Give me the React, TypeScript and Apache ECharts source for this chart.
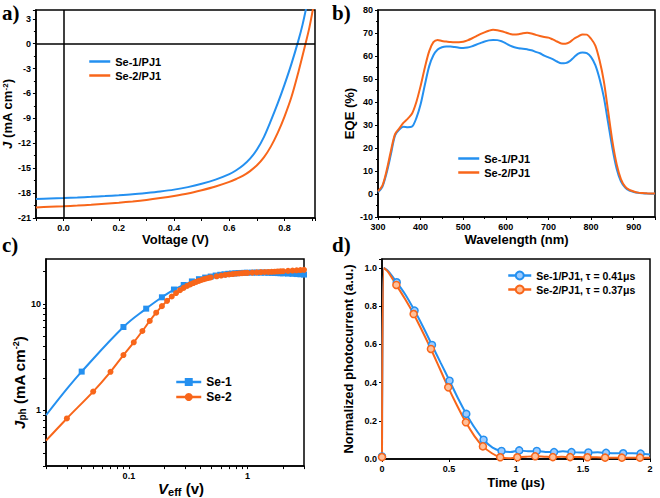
import React, { useEffect, useRef } from 'react';
import * as echarts from 'echarts';

// ---------- data ----------
// a) J-V curves
const jvV1 = [-0.1,-0.05,0,0.05,0.1,0.15,0.2,0.25,0.3,0.35,0.4,0.45,0.5,0.55,0.6,0.625,0.65,0.675,0.7,0.725,0.75,0.775,0.8,0.825,0.85,0.865,0.88];
const jvJ1 = [-18.72,-18.66,-18.6,-18.53,-18.45,-18.36,-18.26,-18.14,-17.98,-17.8,-17.58,-17.28,-16.88,-16.38,-15.72,-15.25,-14.65,-13.85,-12.75,-11.25,-9.3,-7.2,-4.9,-2.4,0.4,2.3,4.6];
const jvV2 = [-0.1,-0.05,0,0.05,0.1,0.15,0.2,0.25,0.3,0.35,0.4,0.45,0.5,0.55,0.6,0.625,0.65,0.675,0.7,0.725,0.75,0.775,0.8,0.825,0.85,0.875,0.89,0.905];
const jvJ2 = [-19.72,-19.65,-19.58,-19.5,-19.4,-19.28,-19.15,-19.0,-18.82,-18.6,-18.35,-18.05,-17.65,-17.2,-16.65,-16.3,-15.9,-15.35,-14.65,-13.7,-12.4,-10.75,-8.75,-6.4,-3.4,-0.1,2.0,4.6];

// b) EQE
const eqeWl = [300,310,320,330,340,350,360,370,380,390,400,410,420,430,440,450,460,470,480,490,500,510,520,530,540,550,560,570,580,590,600,610,620,630,640,650,660,670,680,690,700,710,720,730,740,750,760,770,780,790,800,810,820,830,840,850,860,870,880,890,900,910,920,930,940,950];
const eqeSe1 = [0.8,3,9,17,25.5,28,29.2,29,29.3,33,39,47.5,55.5,60.3,62.8,63.8,64.1,64.1,63.9,63.6,63.5,63.7,64.2,64.9,65.6,66.3,66.8,67,66.9,66.4,65.5,64.5,63.8,63.4,63.2,62.9,62.5,61.8,61.2,60.2,59.4,58.6,57.6,56.8,56.9,57.8,59.5,61,61.5,61.2,59.5,56,50,42,31,20,11,5.5,2.8,1.5,0.9,0.5,0.3,0.2,0.1,0.1];
const eqeSe2 = [1.2,3.5,10,18.5,26,28.5,31,32.8,35,40,47,55,62,66,67,66.5,66.3,66.1,66,66,66.2,66.8,67.6,68.5,69.5,70.3,71,71.4,71.2,70.8,70.2,69.6,69.3,69.5,69.9,70.1,69.8,69.2,68.7,68.3,68,67.2,66.3,65.4,65.3,66,67.5,68.5,69.4,69.3,67.5,64.5,58,49,36,23,13,6.5,3.2,1.8,1.1,0.6,0.4,0.3,0.2,0.2];

// c) Jph vs Veff
const jphV1 = [0.02,0.03,0.04,0.09,0.14,0.19,0.24,0.29,0.34,0.39,0.44,0.49,0.54,0.59,0.64,0.69,0.74,0.79,0.84,0.89,0.94,0.99,1.1,1.2,1.3,1.4,1.5,1.6,1.7,1.8,1.9,2.0,2.2,2.4,2.6,2.8,3.0];
const jphJ1 = [0.9,1.59,2.31,6.05,9.0,11.5,13.6,15.0,16.2,17.0,17.6,18.0,18.4,18.7,18.9,19.1,19.2,19.3,19.4,19.45,19.5,19.55,19.6,19.6,19.6,19.6,19.55,19.5,19.45,19.4,19.35,19.3,19.2,19.1,19.0,18.9,18.8];
const jphV2 = [0.02,0.03,0.05,0.07,0.09,0.11,0.13,0.15,0.17,0.19,0.21,0.23,0.25,0.27,0.29,0.31,0.33,0.35,0.37,0.39,0.41,0.43,0.45,0.47,0.49,0.55,0.6,0.65,0.7,0.75,0.8,0.85,0.9,0.95,1.0,1.1,1.2,1.3,1.4,1.5,1.6,1.7,1.8,1.9,2.0,2.2,2.4,2.6,2.8,3.0];
const jphJ2 = [0.52,0.84,1.5,2.3,3.3,4.35,5.55,6.9,8.25,9.5,10.65,11.7,12.6,13.4,14.1,14.7,15.2,15.65,16.05,16.4,16.7,17.0,17.25,17.45,17.65,18.1,18.4,18.65,18.85,19.0,19.15,19.25,19.35,19.45,19.5,19.6,19.7,19.8,19.85,19.9,19.95,20.0,20.1,20.15,20.2,20.35,20.5,20.6,20.7,20.8];

// d) transient photocurrent
const decayT1 = [0,0.015,0.045,0.11,0.175,0.243,0.308,0.373,0.438,0.504,0.567,0.629,0.693,0.758,0.825,0.892,0.958,1.024,1.09,1.155,1.22,1.284,1.35,1.414,1.48,1.54,1.61,1.672,1.74,1.8,1.87,1.93,2.0];
const decayI1 = [0.013,1.0,0.985,0.925,0.86,0.777,0.69,0.597,0.503,0.41,0.318,0.236,0.162,0.101,0.06,0.042,0.036,0.045,0.04,0.042,0.037,0.036,0.04,0.036,0.034,0.034,0.035,0.032,0.03,0.03,0.03,0.028,0.024];
const decayT2 = [0,0.015,0.045,0.107,0.17,0.236,0.3,0.365,0.43,0.494,0.56,0.626,0.69,0.753,0.82,0.882,0.946,1.01,1.075,1.143,1.21,1.275,1.34,1.404,1.47,1.533,1.6,1.665,1.73,1.79,1.86,1.925,2.0];
const decayI2 = [0.01,1.0,0.98,0.911,0.84,0.759,0.67,0.576,0.475,0.375,0.28,0.192,0.12,0.066,0.03,0.009,0.004,0.009,0.012,0.014,0.012,0.01,0.012,0.01,0.01,0.009,0.009,0.007,0.007,0.007,0.007,0.007,0.006];

const namesAB = ['Se-1/PJ1', 'Se-2/PJ1'];
const namesC = ['Se-1', 'Se-2'];
const namesD = ['Se-1/PJ1, \u03c4 = 0.41\u03bcs', 'Se-2/PJ1, \u03c4 = 0.37\u03bcs'];
const logTicksX = [0.02,0.03,0.04,0.05,0.06,0.07,0.08,0.09,0.1,0.2,0.3,0.4,0.5,0.6,0.7,0.8,0.9,1,2,3];
const logTicksY = [0.3,0.4,0.5,0.6,0.7,0.8,0.9,1,2,3,4,5,6,7,8,9,10,20];

// ---------- styles ----------
const BLUE = '#2490f0';
const ORANGE = '#f8661a';
const FF = '"Liberation Sans", Arial, sans-serif';

const zip = (xs: number[], ys: number[]) => xs.map((x, i) => [x, ys[i]]);

const nameStyle = (size: number, extra: any = {}) => ({ color: '#000', fontWeight: 'bold', fontSize: size, fontFamily: FF, ...extra });

const axisBase = (extra: any) => ({
  axisLine: { show: true, onZero: false, lineStyle: { color: '#000', width: 1.5 } },
  axisTick: { show: true, inside: false, length: 3, lineStyle: { color: '#000', width: 1 } },
  axisLabel: { color: '#000', fontWeight: 'bold', fontSize: 9, fontFamily: FF, margin: 5 },
  splitLine: { show: false },
  nameLocation: 'middle',
  nameTextStyle: nameStyle(13),
  ...extra,
});

const lbl = (formatter?: any) => ({ color: '#000', fontWeight: 'bold', fontSize: 9, fontFamily: FF, margin: 5, ...(formatter ? { formatter } : {}) });

const minor = { show: true, splitNumber: 2, length: 2, lineStyle: { color: '#000', width: 1 } };

const legendBase = (data: string[], left: number, top: number, w: number, fs: number, hideSymbol: boolean) => ({
  show: true,
  orient: 'vertical',
  left, top,
  padding: 0,
  itemGap: 3,
  itemWidth: w,
  itemHeight: 10,
  data,
  selectedMode: false,
  ...(hideSymbol ? { itemStyle: { color: 'rgba(0,0,0,0)', borderWidth: 0, opacity: 0 } } : {}),
  lineStyle: { width: 2.5 },
  textStyle: { color: '#000', fontWeight: 'bold', fontSize: fs, fontFamily: FF },
});

export default function App() {
  const ref = useRef<HTMLDivElement>(null);
  useEffect(() => {
    if (!ref.current) return;
    const chart = echarts.init(ref.current, undefined, { renderer: 'svg' });
    const isMarkD = (i: number, n: number) => i === 0 || (i >= 3 && i % 2 === 1 && i < n - 1);
    const option: any = {
      animation: false,
      backgroundColor: '#fff',
      grid: [
        { left: 33, top: 10, width: 282, height: 208, show: true, borderColor: '#000', borderWidth: 1.5 },
        { left: 378, top: 10, width: 277, height: 207, show: true, borderColor: '#000', borderWidth: 1.5 },
        { left: 46, top: 259, width: 258, height: 208, show: true, borderColor: '#000', borderWidth: 1.5 },
        { left: 382, top: 259, width: 268, height: 200, show: true, borderColor: '#000', borderWidth: 1.5 },
      ],
      xAxis: [
        axisBase({
          gridIndex: 0, type: 'value', min: -0.1, max: 0.91, interval: 0.1,
          name: 'Voltage (V)', nameGap: 15,
          axisLabel: lbl((v: number) => (Math.abs(Math.round(v * 10)) % 2 === 0 && Math.abs(v * 10 - Math.round(v * 10)) < 1e-6 ? v.toFixed(1) : '')),
        }),
        axisBase({
          gridIndex: 1, type: 'value', min: 300, max: 950, interval: 100,
          name: 'Wavelength (nm)', nameGap: 16,
          minorTick: minor,
          axisLabel: lbl((v: number) => (v % 100 === 0 ? String(v) : '')),
        }),
        axisBase({
          gridIndex: 2, type: 'log', logBase: 10, min: 0.02, max: 3,
          name: '{i|V}{sub|eff} (v)', nameGap: 13,
          nameTextStyle: nameStyle(15, {
            padding: [0, 0, 0, 12],
            rich: {
              i: { fontStyle: 'italic', fontWeight: 'bold', fontSize: 15, fontFamily: FF, color: '#000' },
              sub: { fontWeight: 'bold', fontSize: 11, fontFamily: FF, color: '#000', verticalAlign: 'bottom', padding: [6, 0, 0, 0] },
            } }),
          axisTick: { show: true, inside: false, length: 3, customValues: logTicksX, lineStyle: { color: '#000', width: 1 } },
          axisLabel: lbl((v: number) => { const l = Math.log10(v); return Math.abs(l - Math.round(l)) < 1e-6 ? (v < 1 ? v.toFixed(1) : String(Math.round(v))) : ''; }),
        }),
        axisBase({
          gridIndex: 3, type: 'value', min: 0, max: 2, interval: 0.5,
          name: 'Time (\u03bcs)', nameGap: 17,
          axisLabel: lbl((v: number) => String(v)),
        }),
      ],
      yAxis: [
        axisBase({
          gridIndex: 0, type: 'value', min: -21, max: 4.06, interval: 3,
          name: '{i|J} (mA cm{sup|-2})', nameGap: 16,
          nameTextStyle: nameStyle(13, {
            rich: {
              i: { fontStyle: 'italic', fontWeight: 'bold', fontSize: 13, fontFamily: FF, color: '#000' },
              sup: { fontWeight: 'bold', fontSize: 8, fontFamily: FF, color: '#000', verticalAlign: 'top', padding: [0, 0, 5, 0] },
            } }),
          minorTick: minor,
          axisLabel: lbl((v: number) => (v % 3 === 0 ? String(v) : '')),
        }),
        axisBase({
          gridIndex: 1, type: 'value', min: -10, max: 80, interval: 10,
          name: 'EQE (%)', nameGap: 19,
          minorTick: minor,
          axisLabel: lbl(),
        }),
        axisBase({
          gridIndex: 2, type: 'log', logBase: 10, min: 0.3, max: 26.3,
          name: '{i|J}{sub|ph} (mA cm{sup|-2})', nameGap: 13,
          nameTextStyle: nameStyle(15, {
            padding: [0, 40, 0, 0],
            rich: {
              i: { fontStyle: 'italic', fontWeight: 'bold', fontSize: 15, fontFamily: FF, color: '#000' },
              sub: { fontWeight: 'bold', fontSize: 10, fontFamily: FF, color: '#000', verticalAlign: 'bottom', padding: [6, 0, 0, 0] },
              sup: { fontWeight: 'bold', fontSize: 9, fontFamily: FF, color: '#000', verticalAlign: 'top', padding: [0, 0, 6, 0] },
            } }),
          axisTick: { show: true, inside: false, length: 3, customValues: logTicksY, lineStyle: { color: '#000', width: 1 } },
          axisLabel: lbl((v: number) => { const l = Math.log10(v); return Math.abs(l - Math.round(l)) < 1e-6 ? String(Math.round(v)) : ''; }),
        }),
        axisBase({
          gridIndex: 3, type: 'value', min: 0, max: 1.047, interval: 0.2,
          name: 'Normalized photocurrent (a.u.)', nameGap: 27,
          axisLabel: lbl((v: number) => (Math.abs(v * 5 - Math.round(v * 5)) < 1e-6 ? v.toFixed(1) : '')),
        }),
      ],
      legend: [
        legendBase(namesAB, 88, 56, 21, 11, true),
        legendBase(namesAB, 457, 153, 21, 11, true),
        legendBase(namesC, 175, 376, 25, 12, false),
        legendBase(namesD, 507, 270, 23, 10.5, false),
      ],
      graphic: [
        { type: 'text', left: 2, top: 2, style: { text: 'a)', font: 'bold 21px "Liberation Serif", serif', fill: '#000' } },
        { type: 'text', left: 332, top: 2, style: { text: 'b)', font: 'bold 21px "Liberation Serif", serif', fill: '#000' } },
        { type: 'text', left: 2, top: 234, style: { text: 'c)', font: 'bold 21px "Liberation Serif", serif', fill: '#000' } },
        { type: 'text', left: 332, top: 234, style: { text: 'd)', font: 'bold 21px "Liberation Serif", serif', fill: '#000' } },
      ],
      series: [
        {
          type: 'line', name: namesAB[0], xAxisIndex: 0, yAxisIndex: 0, data: zip(jvV1, jvJ1),
          symbol: 'none', smooth: 0.3, color: BLUE, lineStyle: { color: BLUE, width: 2 },
          markLine: {
            silent: true, symbol: 'none', animation: false, label: { show: false },
            lineStyle: { color: '#000', width: 1.5, type: 'solid' },
            data: [{ xAxis: 0 }, { yAxis: 0 }],
          },
        },
        {
          type: 'line', name: namesAB[1], xAxisIndex: 0, yAxisIndex: 0, data: zip(jvV2, jvJ2),
          symbol: 'none', smooth: 0.3, color: ORANGE, lineStyle: { color: ORANGE, width: 2 },
        },
        {
          type: 'line', name: namesAB[0], xAxisIndex: 1, yAxisIndex: 1, data: zip(eqeWl, eqeSe1),
          symbol: 'none', smooth: 0.3, color: BLUE, lineStyle: { color: BLUE, width: 2 },
        },
        {
          type: 'line', name: namesAB[1], xAxisIndex: 1, yAxisIndex: 1, data: zip(eqeWl, eqeSe2),
          symbol: 'none', smooth: 0.3, color: ORANGE, lineStyle: { color: ORANGE, width: 2 },
        },
        {
          type: 'line', name: namesC[0], xAxisIndex: 2, yAxisIndex: 2,
          data: jphV1.map((v, i) => ({ value: [v, jphJ1[i]], symbol: i < 2 ? 'none' : 'rect' })),
          symbol: 'rect', symbolSize: 6, showAllSymbol: true, smooth: 0.4, color: BLUE,
          itemStyle: { color: BLUE }, lineStyle: { color: BLUE, width: 2 },
        },
        {
          type: 'line', name: namesC[1], xAxisIndex: 2, yAxisIndex: 2,
          data: jphV2.map((v, i) => ({ value: [v, jphJ2[i]], symbol: i < 1 ? 'none' : 'circle' })),
          symbol: 'circle', symbolSize: 6, showAllSymbol: true, smooth: 0.3, color: ORANGE,
          itemStyle: { color: ORANGE }, lineStyle: { color: ORANGE, width: 2 },
        },
        {
          type: 'line', name: namesD[0], xAxisIndex: 3, yAxisIndex: 3,
          data: decayT1.map((t, i) => ({ value: [t, decayI1[i]], symbol: isMarkD(i, decayT1.length) ? 'circle' : 'none' })),
          symbol: 'circle', symbolSize: 7, showAllSymbol: true, smooth: 0.3, color: BLUE,
          itemStyle: { color: '#9ccbff', borderColor: BLUE, borderWidth: 1.5 }, lineStyle: { color: BLUE, width: 2 },
        },
        {
          type: 'line', name: namesD[1], xAxisIndex: 3, yAxisIndex: 3,
          data: decayT2.map((t, i) => ({ value: [t, decayI2[i]], symbol: isMarkD(i, decayT2.length) ? 'circle' : 'none' })),
          symbol: 'circle', symbolSize: 7, showAllSymbol: true, smooth: 0.3, color: ORANGE,
          itemStyle: { color: '#ffc09a', borderColor: ORANGE, borderWidth: 1.5 }, lineStyle: { color: ORANGE, width: 2 },
        },
      ],
    };
    chart.setOption(option);
    return () => chart.dispose();
  }, []);
  return <div ref={ref} style={{ position: 'absolute', left: 0, top: 0, width: 660, height: 498 }} />;
}
